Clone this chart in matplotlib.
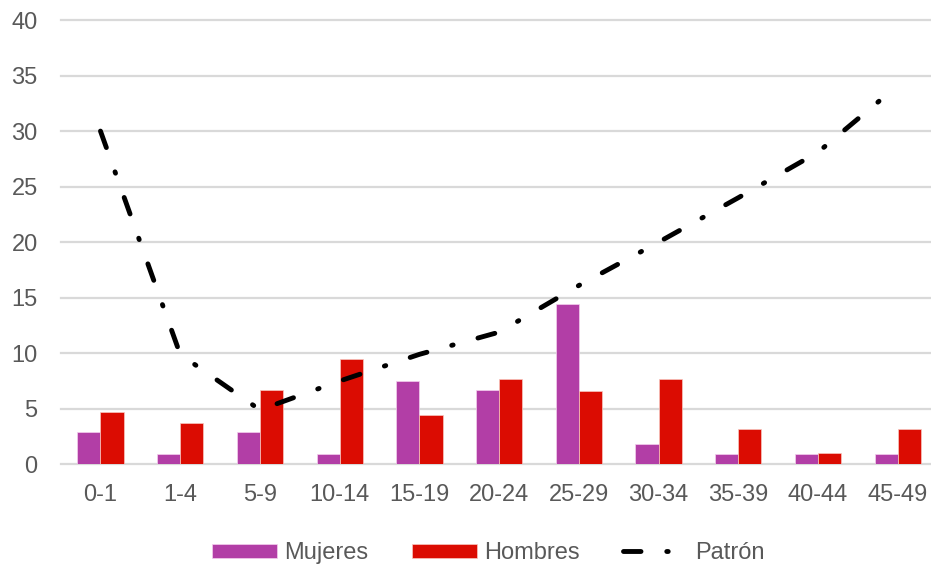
import matplotlib
matplotlib.use('Agg')
import matplotlib.pyplot as plt
import numpy as np

plt.rcParams['font.family'] = ['Liberation Sans', 'DejaVu Sans']

grupos = ['0-1', '1-4', '5-9', '10-14', '15-19', '20-24', '25-29', '30-34', '35-39', '40-44', '45-49']
mujeres = [2.9, 0.9, 2.9, 0.9, 7.5, 6.7, 14.4, 1.8, 0.9, 0.9, 0.9]
hombres = [4.7, 3.7, 6.7, 9.5, 4.4, 7.7, 6.6, 7.7, 3.2, 1.0, 3.2]
patron = [30.0, 9.9, 4.9, 7.5, 9.9, 11.9, 16.1, 20.0, 24.0, 28.1, 34.1]

gris = '#595959'
fig = plt.figure(figsize=(9.31, 5.67), dpi=100)
ax = fig.add_axes([0.0651, 0.1811, 0.942, 0.7836])

x = np.arange(len(grupos))
w = 0.29
b1 = ax.bar(x - w / 2, mujeres, w, color='#B23EA6', edgecolor='#f4d0ee', linewidth=0.5, label='Mujeres')
b2 = ax.bar(x + w / 2, hombres, w, color='#DB0C02', edgecolor='#f8c8c0', linewidth=0.5, label='Hombres')
ln, = ax.plot(x, patron, color='black', lw=3.5, linestyle=(0, (3.6, 5.3, 0.3, 5.3)),
              dash_capstyle='round', label='Patrón')

ax.set_xlim(-0.5, len(grupos) - 0.5)
ax.set_ylim(0, 40)
ax.set_yticks(range(0, 41, 5))
ax.set_xticks(x)
ax.set_xticklabels(grupos)
ax.tick_params(axis='both', length=0, labelsize=17, labelcolor=gris)
ax.tick_params(axis='y', pad=16.5)
ax.tick_params(axis='x', pad=14)
ax.yaxis.grid(True, color='#D9D9D9', lw=1.6)
for gl in ax.get_ygridlines():
    gl.set_clip_on(False)
ax.set_axisbelow(True)
for s in ax.spines.values():
    s.set_visible(False)

leg = fig.legend([b1, b2, ln], ['Mujeres', 'Hombres', 'Patrón'],
                 loc='center', bbox_to_anchor=(0.5247, 1 - 553 / 567), ncol=3, frameon=False,
                 handlelength=2.75, handleheight=0.52, handletextpad=0.3, columnspacing=1.85,
                 fontsize=17, borderpad=0)
for t in leg.get_texts():
    t.set_color(gris)

fig.savefig('out.png', dpi=100)
